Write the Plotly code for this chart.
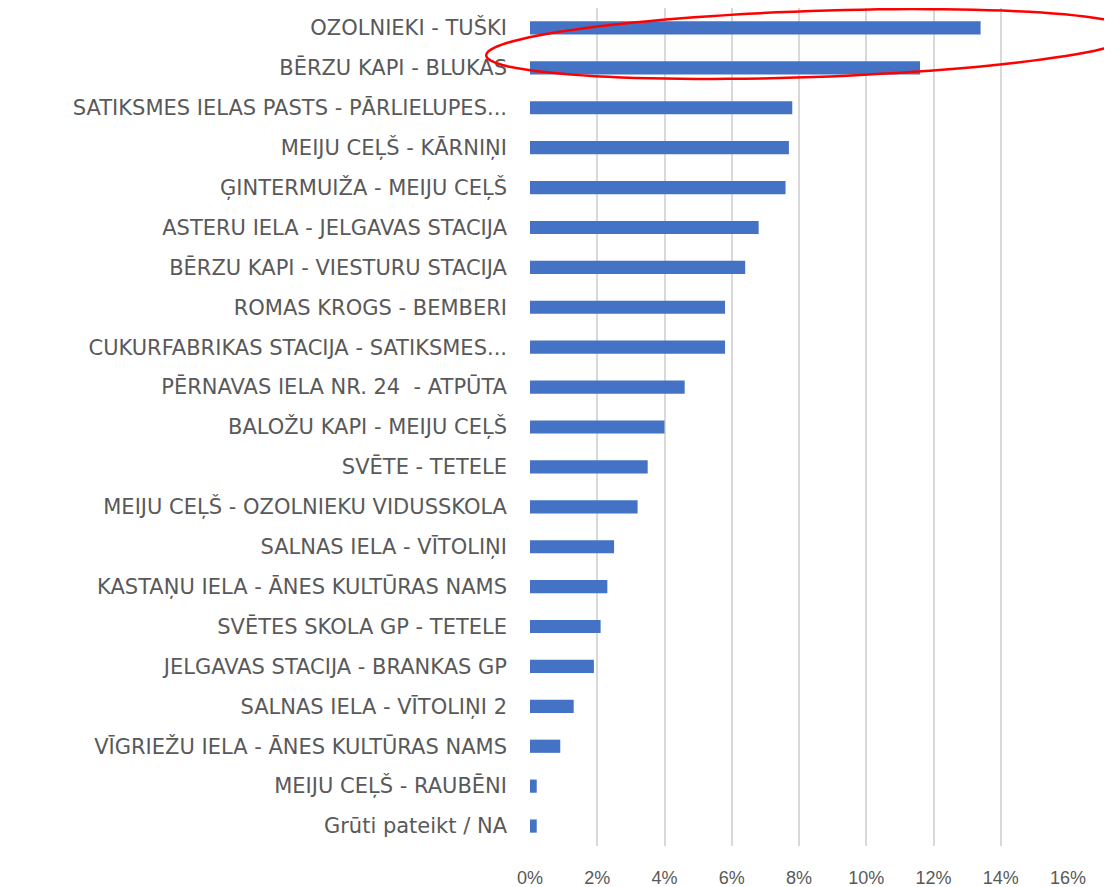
import math
import plotly.graph_objects as go

categories = [
    "OZOLNIEKI - TUŠKI",
    "BĒRZU KAPI - BLUKAS",
    "SATIKSMES IELAS PASTS - PĀRLIELUPES...",
    "MEIJU CEĻŠ - KĀRNIŅI",
    "ĢINTERMUIŽA - MEIJU CEĻŠ",
    "ASTERU IELA - JELGAVAS STACIJA",
    "BĒRZU KAPI - VIESTURU STACIJA",
    "ROMAS KROGS - BEMBERI",
    "CUKURFABRIKAS STACIJA - SATIKSMES...",
    "PĒRNAVAS IELA NR. 24  - ATPŪTA",
    "BALOŽU KAPI - MEIJU CEĻŠ",
    "SVĒTE - TETELE",
    "MEIJU CEĻŠ - OZOLNIEKU VIDUSSKOLA",
    "SALNAS IELA - VĪTOLIŅI",
    "KASTAŅU IELA - ĀNES KULTŪRAS NAMS",
    "SVĒTES SKOLA GP - TETELE",
    "JELGAVAS STACIJA - BRANKAS GP",
    "SALNAS IELA - VĪTOLIŅI 2",
    "VĪGRIEŽU IELA - ĀNES KULTŪRAS NAMS",
    "MEIJU CEĻŠ - RAUBĒNI",
    "Grūti pateikt / NA",
]
values = [0.134, 0.116, 0.078, 0.077, 0.076, 0.068, 0.064, 0.058, 0.058, 0.046,
          0.040, 0.035, 0.032, 0.025, 0.023, 0.021, 0.019, 0.013, 0.009, 0.002, 0.002]
x_ticks = [0, 0.02, 0.04, 0.06, 0.08, 0.10, 0.12, 0.14, 0.16]
x_tick_labels = ["0%", "2%", "4%", "6%", "8%", "10%", "12%", "14%", "16%"]

# page body adds an 8px offset; figure sized to fill the rest of the window
OFF = 8
W, H = 1112 - OFF, 887 - OFF
ML, MR, MT, MB = 522, 44, 0, 41

fig = go.Figure(go.Bar(
    x=values, y=categories, orientation="h",
    marker=dict(color="#4472C4", line=dict(width=0)),
    hoverinfo="x+y",
))

# red ellipse highlight around top two bars (pixel geometry -> paper coords)
pw, ph = W - ML - MR, H - MT - MB
cx, cy, a, b, rot = 804, 36, 326, 33, math.radians(-2.0)
pts = []
for i in range(121):
    t = 2 * math.pi * i / 120
    px = cx + a * math.cos(t) * math.cos(rot) - b * math.sin(t) * math.sin(rot)
    py = cy + a * math.cos(t) * math.sin(rot) + b * math.sin(t) * math.cos(rot)
    pts.append(((px - ML) / pw, 1 - (py - MT) / ph))
path = "M " + " L ".join(f"{x:.4f},{y:.4f}" for x, y in pts) + " Z"

fig.update_layout(
    width=W, height=H,
    margin=dict(l=ML, r=MR, t=MT, b=MB),
    paper_bgcolor="white", plot_bgcolor="white",
    bargap=0.67,
    showlegend=False,
    font=dict(family="DejaVu Sans", color="#595959"),
    xaxis=dict(
        range=[0, 0.16], tickvals=x_ticks, ticktext=x_tick_labels,
        showgrid=True, gridcolor="#D9D9D9", gridwidth=1.5,
        zeroline=False, showline=False, ticks="",
        tickfont=dict(family="Liberation Sans", size=18, color="#595959"),
        ticklabelstandoff=19, fixedrange=True, automargin=False,
    ),
    yaxis=dict(
        autorange="reversed", showgrid=False, zeroline=False, showline=False,
        ticks="", tickfont=dict(family="DejaVu Sans", size=21, color="#595959"),
        ticklabelstandoff=22, automargin=False,
    ),
    shapes=[dict(type="path", path=path, xref="paper", yref="paper",
                 line=dict(color="#FF0000", width=2.5), fillcolor="rgba(0,0,0,0)")],
)

fig.write_html("out.html")
